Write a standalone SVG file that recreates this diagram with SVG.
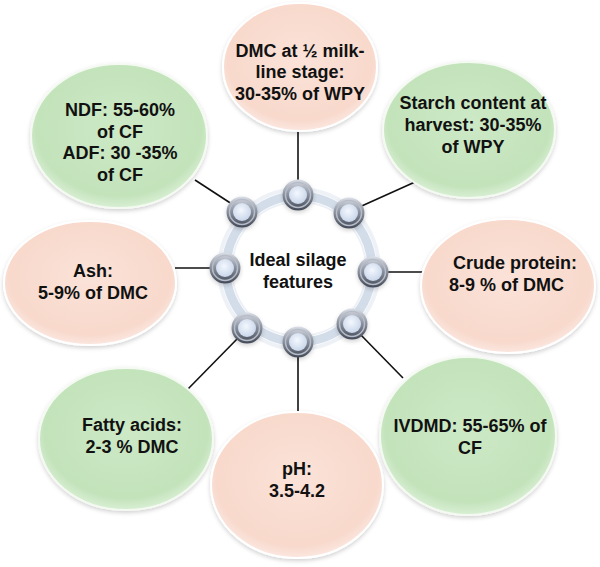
<svg xmlns="http://www.w3.org/2000/svg" xmlns:xlink="http://www.w3.org/1999/xlink" width="600" height="567" viewBox="0 0 600 567">
<defs>
<radialGradient id="pink" cx="50%" cy="45%" r="55%">
<stop offset="0" stop-color="#FBE2D8"/>
<stop offset="0.85" stop-color="#F8D9CC"/>
<stop offset="1" stop-color="#FBE7E0"/>
</radialGradient>
<radialGradient id="green" cx="50%" cy="45%" r="55%">
<stop offset="0" stop-color="#CDE9C6"/>
<stop offset="0.85" stop-color="#C3E3BB"/>
<stop offset="1" stop-color="#D9EFD4"/>
</radialGradient>
<linearGradient id="metal" x1="0" y1="0" x2="0" y2="1">
<stop offset="0" stop-color="#DADEE6"/>
<stop offset="0.45" stop-color="#8E95A2"/>
<stop offset="1" stop-color="#434957"/>
</linearGradient>
<radialGradient id="pearl" cx="45%" cy="40%" r="60%">
<stop offset="0" stop-color="#F4F8FE"/>
<stop offset="1" stop-color="#C9D6EA"/>
</radialGradient>
<filter id="sh" x="-10%" y="-10%" width="120%" height="125%">
<feDropShadow dx="0" dy="2" stdDeviation="2" flood-color="#000" flood-opacity="0.18"/>
</filter>
<g id="bead">
<circle r="15.5" fill="url(#metal)" filter="url(#sh)"/>
<circle r="12.5" fill="none" stroke="#B7BDC8" stroke-width="1.5"/>
<circle r="9" fill="url(#pearl)"/>
</g>
<style>
.lbl{font-family:"Liberation Sans",Arial,sans-serif;font-weight:bold;font-size:18px;fill:#111;text-anchor:middle}
.conn{stroke:#111;stroke-width:1.6;fill:none}
.pk{fill:url(#pink);stroke:#FFFFFF;stroke-width:2;filter:url(#sh)}
.gr{fill:url(#green);stroke:#F4FAF2;stroke-width:2;filter:url(#sh)}
</style>
</defs>
<rect width="600" height="567" fill="#FFFFFF"/>

<g id="connectors">
<line class="conn" x1="298" y1="181" x2="298" y2="131"/>
<line class="conn" x1="238" y1="208" x2="195" y2="180"/>
<line class="conn" x1="355" y1="209" x2="415" y2="182"/>
<line class="conn" x1="215" y1="268" x2="175" y2="268"/>
<line class="conn" x1="385" y1="272" x2="424" y2="272"/>
<line class="conn" x1="240" y1="336" x2="187" y2="390"/>
<line class="conn" x1="298" y1="352" x2="298" y2="413"/>
<line class="conn" x1="358" y1="332" x2="403" y2="378"/>
</g>

<g id="node-dmc">
<ellipse class="pk" cx="300" cy="67" rx="77" ry="64"/>
<text class="lbl" x="300" y="57">DMC at ½ milk-</text>
<text class="lbl" x="300" y="78">line stage:</text>
<text class="lbl" x="300" y="100">30-35% of WPY</text>
</g>

<g id="node-ndf">
<ellipse class="gr" cx="119" cy="136" rx="88" ry="72"/>
<text class="lbl" x="120" y="116">NDF: 55-60%</text>
<text class="lbl" x="120" y="138">of CF</text>
<text class="lbl" x="120" y="159">ADF: 30 -35%</text>
<text class="lbl" x="120" y="181">of CF</text>
</g>

<g id="node-starch">
<ellipse class="gr" cx="469" cy="130" rx="86" ry="68"/>
<text class="lbl" x="473" y="109">Starch content at</text>
<text class="lbl" x="473" y="131">harvest: 30-35%</text>
<text class="lbl" x="473" y="153">of WPY</text>
</g>

<g id="node-ash">
<ellipse class="pk" cx="90" cy="283" rx="86" ry="62"/>
<text class="lbl" x="93" y="277">Ash:</text>
<text class="lbl" x="93" y="299">5-9% of DMC</text>
</g>

<g id="node-cp">
<ellipse class="pk" cx="508" cy="286" rx="87" ry="67"/>
<text class="lbl" x="453" y="269" style="text-anchor:start">Crude protein:</text>
<text class="lbl" x="449" y="291" style="text-anchor:start">8-9 % of DMC</text>
</g>

<g id="node-fatty">
<ellipse class="gr" cx="126" cy="439" rx="87" ry="71"/>
<text class="lbl" x="132" y="431">Fatty acids:</text>
<text class="lbl" x="132" y="453">2-3 % DMC</text>
</g>

<g id="node-ph">
<ellipse class="pk" cx="297" cy="485" rx="86" ry="73"/>
<text class="lbl" x="297" y="475">pH:</text>
<text class="lbl" x="297" y="497">3.5-4.2</text>
</g>

<g id="node-ivdmd">
<ellipse class="gr" cx="468" cy="436" rx="88" ry="79"/>
<text class="lbl" x="470" y="432">IVDMD: 55-65% of</text>
<text class="lbl" x="470" y="454">CF</text>
</g>

<g id="node-center">
<circle cx="299" cy="269" r="80" fill="none" stroke="#EEF2F7" stroke-width="4"/>
<circle cx="299" cy="269" r="73" fill="#FFFFFF" stroke="#D3DDEA" stroke-width="9"/>
<circle cx="299" cy="269" r="67" fill="#FFFFFF" stroke="#EDF1F6" stroke-width="2"/>
<use xlink:href="#bead" x="298" y="195"/>
<use xlink:href="#bead" x="349" y="213"/>
<use xlink:href="#bead" x="373" y="272"/>
<use xlink:href="#bead" x="352" y="324"/>
<use xlink:href="#bead" x="298" y="342"/>
<use xlink:href="#bead" x="247" y="328"/>
<use xlink:href="#bead" x="225" y="268"/>
<use xlink:href="#bead" x="242" y="212"/>
<text class="lbl" x="298" y="266">Ideal silage</text>
<text class="lbl" x="298" y="288">features</text>
</g>
</svg>
